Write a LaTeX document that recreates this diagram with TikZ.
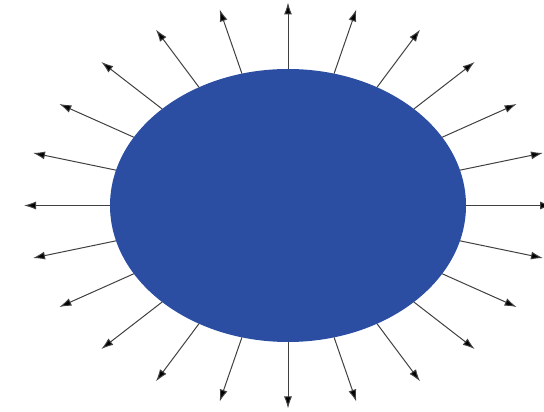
\documentclass[tikz,border=0pt]{standalone}
\usepackage{xcolor}
\usepackage{tikz}
\usetikzlibrary{shapes.geometric,arrows.meta,calc}
\definecolor{blobcol}{RGB}{43,78,163}
\tikzset{
  blob/.style={ellipse,fill=#1,draw=none,inner sep=0pt,
    minimum width=356pt,minimum height=273pt}
}

\begin{document}
\begin{tikzpicture}[x=1pt,y=1pt,
  ray/.style={-{Latex[length=12pt,width=8pt,fill=black]},line width=1pt,black!75}
]
  \useasboundingbox (0,0) rectangle (544,412);
  \node[blob=blobcol] (sphere) at (288,206.5) {};
  \foreach \a in {0,15,...,345} {
    \coordinate (s\a) at ($(sphere.center)+(\a:178 and 136.5)$);
    \coordinate (t\a) at ($(sphere.center)+(\a:264 and 203)$);
    \draw[ray] (s\a) -- (t\a);
  }
\end{tikzpicture}
\end{document}
